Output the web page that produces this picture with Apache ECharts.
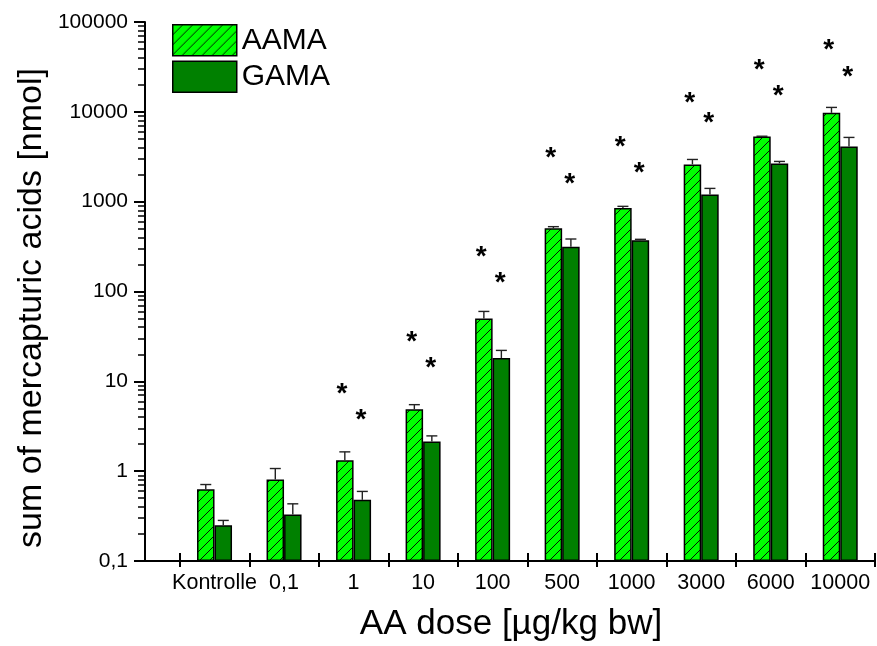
<!DOCTYPE html>
<html>
<head>
<meta charset="utf-8">
<script src="https://cdn.jsdelivr.net/npm/echarts@6/dist/echarts.min.js"></script>
<style>html,body{margin:0;padding:0;background:#fff;}#c{width:877px;height:646px;}</style>
</head>
<body>
<div id="c"></div>
<script>
const categories = ['Kontrolle', '0,1', '1', '10', '100', '500', '1000', '3000', '6000', '10000'];
const aamaValues = [0.63, 0.81, 1.32, 4.9, 50, 505, 850, 2600, 5300, 9750];
const aamaErrTop = [0.71, 1.07, 1.64, 5.5, 60, 527, 887, 2950, 5350, 11200];
const gamaValues = [0.25, 0.33, 0.48, 2.14, 18.2, 315, 372, 1205, 2665, 4120];
const gamaErrTop = [0.283, 0.433, 0.595, 2.47, 22.1, 384, 381, 1405, 2805, 5190];
const aamaStars = [null, null, 8.6, 32.8, 290, 3600, 4860, 14900, 34700, 57400];
const gamaStars = [null, null, 4.41, 16.8, 149, 1870, 2500, 8920, 17960, 29240];
const yTickValues = [0.1, 1, 10, 100, 1000, 10000, 100000];
const yTickLabels = ['0,1', '1', '10', '100', '1000', '10000', '100000'];

const FONT = 'Liberation Sans, Arial, sans-serif';
const BAR_W = 17.5;

// hatch pattern
const pc = document.createElement('canvas');
pc.width = 10; pc.height = 10;
const g = pc.getContext('2d');
g.fillStyle = '#00ff00';
g.fillRect(0, 0, 10, 10);
g.strokeStyle = '#000';
g.lineWidth = 0.9;
g.beginPath();
g.moveTo(-1, 11); g.lineTo(11, -1);
g.moveTo(-2, 2); g.lineTo(2, -2);
g.moveTo(8, 12); g.lineTo(12, 8);
g.stroke();

const pos = categories.map((c, i) => i + 1);
const barData = vals => vals.map((v, i) => [pos[i], v]);
const errData = (vals, errs) => vals.map((v, i) => [pos[i], v, errs[i]]);
const starData = s => s.map((v, i) => v == null ? null : [pos[i], v]).filter(d => d);

// minor tick positions (log space)
const minorTicks = [];
for (let d = -1; d < 5; d++) for (let m = 2; m <= 9; m++) minorTicks.push(d + Math.log10(m));
const majorTicks = yTickValues.map(v => Math.log10(v));
const xTicks = pos.map(p => p - 0.5).concat([10.5]);

function errRender(offset) {
  return function (params, api) {
    const x = api.value(0);
    const p0 = api.coord([x, api.value(1)]);
    const p1 = api.coord([x, api.value(2)]);
    const cx = p0[0] + offset;
    const style = { stroke: '#222', lineWidth: 1.4 };
    return {
      type: 'group',
      children: [
        { type: 'line', shape: { x1: cx, y1: p0[1], x2: cx, y2: p1[1] }, style },
        { type: 'line', shape: { x1: cx - 5.5, y1: p1[1], x2: cx + 5.5, y2: p1[1] }, style }
      ]
    };
  };
}

const starLabel = (dx) => ({
  show: true, formatter: '*', position: 'inside', offset: [dx, 7],
  fontSize: 28, fontWeight: 'bold', color: '#000', fontFamily: FONT,
  textBorderWidth: 0, opacity: 1
});

const chart = echarts.init(document.getElementById('c'), null, { renderer: 'canvas' });
chart.setOption({
  animation: false,
  backgroundColor: '#fff',
  grid: { left: 145, right: 2, top: 22, bottom: 85, containLabel: false },
  legend: {
    data: ['AAMA', 'GAMA'],
    orient: 'vertical', left: 167, top: 19,
    itemWidth: 64, itemHeight: 31, itemGap: 4,
    icon: 'rect',
    itemStyle: { borderColor: '#000', borderWidth: 1.5 },
    textStyle: { fontSize: 30, color: '#000', fontFamily: FONT, padding: [0, 0, 0, 0], lineHeight: 31 }
  },
  xAxis: [
    {
      type: 'value', min: 0, max: 10.5,
      axisLine: { show: true, onZero: false, lineStyle: { color: '#000', width: 2 } },
      axisTick: { show: true, customValues: xTicks, length: 6, lineStyle: { color: '#000', width: 2 } },
      axisLabel: {
        show: true, customValues: pos, margin: 11,
        formatter: v => categories[Math.round(v) - 1] || '',
        fontSize: 21.5, color: '#000', fontFamily: FONT
      },
      splitLine: { show: false }
    },
    {
      type: 'value', min: 0, max: 10.5, position: 'bottom',
      axisLine: { show: false, onZero: false },
      axisTick: { show: true, inside: true, customValues: xTicks, length: 8, lineStyle: { color: '#000', width: 2 } },
      axisLabel: { show: false },
      splitLine: { show: false }
    }
  ],
  yAxis: [
    {
      type: 'log', logBase: 10, min: 0.1, max: 100000, startValue: 0.1,
      axisLine: { show: true, onZero: false, lineStyle: { color: '#000', width: 2 } },
      axisTick: { show: false },
      axisLabel: { show: false },
      splitLine: { show: false }
    },
    {
      type: 'value', min: -1, max: 5, interval: 1, position: 'left',
      axisLine: { show: false, onZero: false },
      axisTick: { show: true, customValues: majorTicks, length: 11, lineStyle: { color: '#000', width: 2 } },
      axisLabel: {
        show: true, customValues: majorTicks, margin: 17,
        formatter: v => yTickLabels[Math.round(v) + 1],
        fontSize: 21, color: '#000', fontFamily: FONT
      },
      splitLine: { show: false }
    },
    {
      type: 'value', min: -1, max: 5, position: 'left',
      axisLine: { show: false, onZero: false },
      axisTick: { show: true, customValues: minorTicks, length: 7, lineStyle: { color: '#000', width: 1.5 } },
      axisLabel: { show: false },
      splitLine: { show: false }
    }
  ],
  graphic: [
    {
      type: 'text', x: 32, y: 308, rotation: Math.PI / 2,
      style: { text: 'sum of mercapturic acids [nmol]', fontSize: 34, fontFamily: FONT, fill: '#000', align: 'center', verticalAlign: 'middle' }
    },
    {
      type: 'text', x: 511, y: 624,
      style: { text: 'AA dose [µg/kg bw]', fontSize: 35, fontFamily: FONT, fill: '#000', align: 'center', verticalAlign: 'middle' }
    }
  ],
  series: [
    {
      name: 'AAMA', type: 'bar', xAxisIndex: 0, yAxisIndex: 0,
      data: barData(aamaValues), barWidth: BAR_W, barGap: '0%',
      itemStyle: { color: { image: pc, repeat: 'repeat' }, borderColor: '#000', borderWidth: 1.5 },
      z: 3
    },
    {
      name: 'GAMA', type: 'bar', xAxisIndex: 0, yAxisIndex: 0,
      data: barData(gamaValues), barWidth: BAR_W, barGap: '0%',
      itemStyle: { color: '#008000', borderColor: '#000', borderWidth: 1.5 },
      z: 3
    },
    {
      type: 'custom', xAxisIndex: 0, yAxisIndex: 0, data: errData(aamaValues, aamaErrTop),
      renderItem: errRender(-BAR_W / 2), z: 4, silent: true
    },
    {
      type: 'custom', xAxisIndex: 0, yAxisIndex: 0, data: errData(gamaValues, gamaErrTop),
      renderItem: errRender(BAR_W / 2), z: 4, silent: true
    },
    {
      type: 'scatter', xAxisIndex: 0, yAxisIndex: 0, data: starData(aamaStars),
      symbolSize: 0, itemStyle: { opacity: 1, color: '#000' }, label: starLabel(-11.5), z: 5, silent: true
    },
    {
      type: 'scatter', xAxisIndex: 0, yAxisIndex: 0, data: starData(gamaStars),
      symbolSize: 0, itemStyle: { opacity: 1, color: '#000' }, label: starLabel(7.5), z: 5, silent: true
    }
  ]
});
</script>
</body>
</html>
